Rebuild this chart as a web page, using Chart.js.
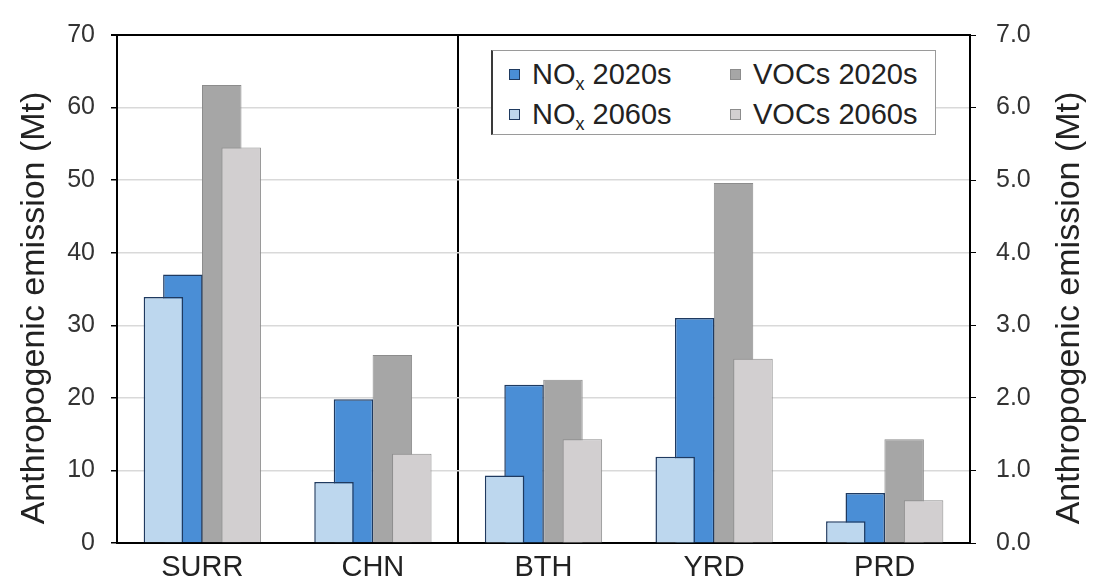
<!DOCTYPE html>
<html>
<head>
<meta charset="utf-8">
<script src="https://cdn.jsdelivr.net/npm/chart.js@4.4.1/dist/chart.umd.min.js"></script>
<style>
  body { margin: 0; background: #fff; }
  #wrap { position: relative; width: 1094px; height: 585px; }
  #legend {
    position: absolute; left: 491px; top: 50px; width: 445px; height: 85px;
    box-sizing: border-box; background: #fff;
    border: 1px solid #9a9a9a; border-left: 2px solid #3a3a3a;
    font-family: 'Liberation Sans', Arial, sans-serif; font-size: 29px; color: #222;
  }
  .item { position: absolute; height: 30px; display: flex; align-items: center; white-space: nowrap; }
  .sw { width: 11px; height: 11px; box-sizing: border-box; border: 1px solid; margin-right: 12px; }
  sub { font-size: 62%; vertical-align: -0.35em; line-height: 0; }
</style>
</head>
<body>
<div id="wrap">
  <canvas id="c" width="1094" height="585"></canvas>
  <div id="legend"></div>
</div>
<script>
// ---- data ----
const categories = ['SURR', 'CHN', 'BTH', 'YRD', 'PRD'];
const panelAxis = ['y', 'y', 'y2', 'y2', 'y2'];       // SURR, CHN read on left axis; BTH, YRD, PRD on right axis
const nox2020 = [37.0, 19.8, 2.18, 3.10, 0.69];
const nox2060 = [33.9, 8.4, 0.93, 1.19, 0.30];
const voc2020 = [63.1, 25.9, 2.25, 4.96, 1.43];
const voc2060 = [54.5, 12.3, 1.43, 2.54, 0.59];
const leftTickMax = 70, leftTickStep = 10;
const rightTickMax = 7, rightTickStep = 1;
const axisTitle = 'Anthropogenic emission (Mt)';
const legendOrder = ['nox2020', 'voc2020', 'nox2060', 'voc2060'];

// ---- styles ----
const FONT = "'Liberation Sans', Arial, sans-serif";
const series = {
  nox2060: { label: 'NOx 2060s', html: 'NO<sub>x</sub> 2060s', data: nox2060, fill: '#bdd7ee', border: '#1f3a60', slot: 's0', bw: 1.5 },
  nox2020: { label: 'NOx 2020s', html: 'NO<sub>x</sub> 2020s', data: nox2020, fill: '#4a8ed6', border: '#1f3a60', slot: 's1', bw: 1.5 },
  voc2060: { label: 'VOCs 2060s', html: 'VOCs 2060s', data: voc2060, fill: '#d2cfd0', border: '#8c8c8c', slot: 's4', bw: 1 },
  voc2020: { label: 'VOCs 2020s', html: 'VOCs 2020s', data: voc2020, fill: '#a6a6a6', border: '#8c8c8c', slot: 's3', bw: 1 }
};
// dataset order controls layering (first = on top); stack ids control the slot in each group
const drawOrder = ['nox2060', 'nox2020', 'gap2', 'gap3', 'voc2060', 'voc2020'];
const gapSlots = { gap2: 's2', gap3: 's3' };

const datasets = [];
drawOrder.forEach(key => {
  if (gapSlots[key]) {
    datasets.push({ label: '', data: categories.map(() => null), stack: gapSlots[key], yAxisID: 'y', backgroundColor: 'rgba(0,0,0,0)' });
    return;
  }
  const s = series[key];
  ['y', 'y2'].forEach(ax => {
    datasets.push({
      label: s.label,
      data: s.data.map((v, i) => panelAxis[i] === ax ? v : null),
      yAxisID: ax,
      stack: s.slot,
      backgroundColor: s.fill,
      borderColor: s.border,
      borderWidth: s.bw
    });
  });
});

// ---- legend (HTML, real text) ----
const legendEl = document.getElementById('legend');
const legendPos = [[16, 8], [237, 8], [16, 48], [237, 48]];
legendOrder.forEach((key, i) => {
  const s = series[key];
  const d = document.createElement('div');
  d.className = 'item';
  d.style.left = legendPos[i][0] + 'px';
  d.style.top = legendPos[i][1] + 'px';
  d.innerHTML = '<span class="sw" style="background:' + s.fill + ';border-color:' + s.border + '"></span><span>' + s.html + '</span>';
  legendEl.appendChild(d);
});

// ---- axis titles (both read bottom-to-top) ----
const titlePlugin = {
  id: 'axisTitles',
  afterDraw(chart) {
    const ctx = chart.ctx;
    const ca = chart.chartArea;
    const cy = (ca.top + ca.bottom) / 2 + 19;
    [[chart.scales.y.left + 35], [chart.scales.y2.right - 24]].forEach(([x]) => {
      ctx.save();
      ctx.font = '34px ' + FONT;
      ctx.fillStyle = '#222';
      ctx.textAlign = 'center';
      ctx.textBaseline = 'middle';
      ctx.translate(x, cy);
      ctx.rotate(-Math.PI / 2);
      ctx.fillText(axisTitle, 0, 0);
      ctx.restore();
    });
  }
};

new Chart(document.getElementById('c'), {
  type: 'bar',
  data: { labels: categories, datasets },
  plugins: [titlePlugin],
  options: {
    responsive: false,
    animation: false,
    devicePixelRatio: 1,
    layout: { padding: { top: 26, left: 0, right: 0, bottom: 0 } },
    plugins: { legend: { display: false }, tooltip: { enabled: false } },
    datasets: { bar: { categoryPercentage: 0.57, barPercentage: 2.03, borderSkipped: 'start' } },
    scales: {
      x: {
        grid: {
          offset: true, drawTicks: false, lineWidth: 2,
          color: c => c.index === 2 ? '#000' : 'rgba(0,0,0,0)'
        },
        border: { color: '#000', width: 2 },
        ticks: { font: { family: FONT, size: 29 }, color: '#222', padding: 8 },
        afterFit: s => { s.height = 42; }
      },
      y: {
        position: 'left', min: 0, max: leftTickMax, stacked: false,
        ticks: { stepSize: leftTickStep, font: { family: FONT, size: 25 }, color: '#333', padding: 16 },
        grid: {
          color: c => (c.tick && c.tick.value === leftTickMax) ? '#000' : '#d9d9d9',
          lineWidth: c => (c.tick && c.tick.value === leftTickMax) ? 2 : 1.5,
          tickColor: '#000', tickLength: 6
        },
        border: { color: '#000', width: 2 },
        afterFit: s => { s.width = 117; }
      },
      y2: {
        position: 'right', min: 0, max: rightTickMax, stacked: false,
        ticks: { stepSize: rightTickStep, callback: v => Number(v).toFixed(1), font: { family: FONT, size: 25 }, color: '#333', padding: 20 },
        grid: { drawOnChartArea: false, tickColor: '#000', tickLength: 6 },
        border: { color: '#000', width: 2 },
        afterFit: s => { s.width = 124; }
      }
    }
  }
});
</script>
</body>
</html>
